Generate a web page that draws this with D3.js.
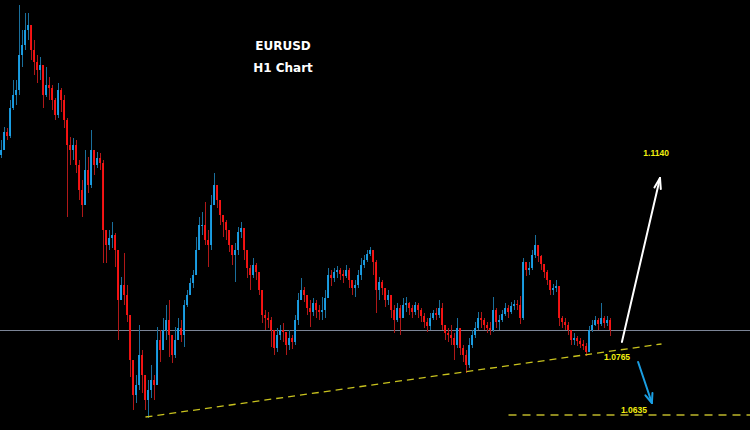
<!DOCTYPE html>
<html>
<head>
<meta charset="utf-8">
<script src="https://cdn.jsdelivr.net/npm/d3@7"></script>
<style>
html,body{margin:0;padding:0;background:#000;overflow:hidden;}
svg{display:block;}
</style>
</head>
<body>
<script>
// ---------- data (EURUSD H1) ----------
const firstOpen = 1.1155;
const closes = [
1.1165,1.1201,1.1193,1.1249,1.1275,1.1285,1.1355,1.1375,1.1405,1.1415,
1.1365,1.1341,1.1325,1.1335,1.1275,1.1295,1.1289,1.1265,1.1235,1.1285,
1.1265,1.1225,1.1175,1.1165,1.1175,1.1135,1.1085,1.1055,1.1125,1.1095,
1.1165,1.1135,1.1149,1.1139,1.1005,1.0975,1.0989,1.0995,1.0965,1.0865,
1.0895,1.0875,1.0835,1.0745,1.0675,1.0695,1.0755,1.0715,1.0665,1.0685,
1.0705,1.0695,1.0785,1.0765,1.0805,1.0825,1.0795,1.0755,1.0785,1.0809,
1.0795,1.0855,1.0875,1.0899,1.0915,1.0965,1.1015,1.1015,1.0985,1.0975,
1.1055,1.1095,1.1065,1.1035,1.1021,1.1005,1.0975,1.0955,1.0965,1.1001,
1.1009,1.0965,1.0929,1.0915,1.0935,1.0921,1.0885,1.0835,1.0829,1.0825,
1.0805,1.0769,1.0795,1.0805,1.0801,1.0775,1.0789,1.0781,1.0825,1.0865,
1.0885,1.0875,1.0849,1.0841,1.0859,1.0845,1.0841,1.0845,1.0869,1.0915,
1.0909,1.0921,1.0925,1.0917,1.0913,1.0925,1.0905,1.0889,1.0895,1.0915,
1.0935,1.0945,1.0957,1.0965,1.0941,1.0885,1.0901,1.0889,1.0865,1.0875,
1.0845,1.0825,1.0849,1.0829,1.0855,1.0859,1.0849,1.0841,1.0855,1.0845,
1.0833,1.0821,1.0813,1.0829,1.0839,1.0835,1.0849,1.0815,1.0799,1.0795,
1.0789,1.0775,1.0809,1.0769,1.0755,1.0735,1.0775,1.0795,1.0809,1.0829,
1.0825,1.0815,1.0809,1.0805,1.0845,1.0821,1.0825,1.0837,1.0849,1.0841,
1.0853,1.0857,1.0855,1.0829,1.0941,1.0925,1.0929,1.0955,1.0975,1.0953,
1.0937,1.0921,1.0905,1.0885,1.0889,1.0893,1.0829,1.0821,1.0815,1.0805,
1.0785,1.0789,1.0783,1.0777,1.0773,1.0761,1.0805,1.0815,1.0825,1.0817,
1.0829,1.0819,1.0825,1.0805
];
const highs = [
1.1185,1.1211,1.1209,1.1265,1.1305,1.1305,1.1455,1.1405,1.1439,1.1439,
1.1415,1.1385,1.1355,1.1351,1.1335,1.1331,1.1311,1.1295,1.1269,1.1299,
1.1289,1.1275,1.1229,1.1191,1.1189,1.1185,1.1145,1.1105,1.1165,1.1151,
1.1205,1.1159,1.1161,1.1159,1.1145,1.1001,1.1005,1.1021,1.0999,1.0965,
1.0911,1.0959,1.0895,1.0835,1.0745,1.0715,1.0815,1.0765,1.0715,1.0705,
1.0735,1.0715,1.0811,1.0805,1.0829,1.0855,1.0865,1.0795,1.0811,1.0829,
1.0825,1.0865,1.0885,1.0909,1.0925,1.0991,1.1031,1.1041,1.1061,1.1005,
1.1075,1.1119,1.1089,1.1065,1.1035,1.1025,1.0995,1.0975,1.0979,1.1011,
1.1021,1.1009,1.0955,1.0935,1.0949,1.0939,1.0915,1.0885,1.0845,1.0841,
1.0831,1.0795,1.0809,1.0815,1.0819,1.0799,1.0805,1.0795,1.0835,1.0879,
1.0909,1.0891,1.0871,1.0865,1.0869,1.0865,1.0855,1.0871,1.0885,1.0929,
1.0925,1.0929,1.0933,1.0929,1.0925,1.0935,1.0929,1.0905,1.0905,1.0925,
1.0949,1.0955,1.0965,1.0971,1.0965,1.0945,1.0911,1.0905,1.0889,1.0885,
1.0875,1.0855,1.0859,1.0855,1.0869,1.0871,1.0861,1.0855,1.0861,1.0859,
1.0849,1.0839,1.0829,1.0839,1.0845,1.0849,1.0865,1.0859,1.0815,1.0809,
1.0815,1.0799,1.0829,1.0785,1.0775,1.0765,1.0789,1.0805,1.0821,1.0841,
1.0841,1.0829,1.0821,1.0821,1.0871,1.0849,1.0835,1.0845,1.0859,1.0855,
1.0861,1.0865,1.0865,1.0873,1.0949,1.0941,1.0941,1.0965,1.0995,1.0969,
1.0955,1.0935,1.0925,1.0901,1.0897,1.0905,1.0885,1.0833,1.0829,1.0821,
1.0805,1.0799,1.0793,1.0789,1.0785,1.0779,1.0813,1.0825,1.0833,1.0829,
1.0859,1.0833,1.0833,1.0829
];
const lows = [
1.1149,1.1175,1.1185,1.1189,1.1245,1.1255,1.1275,1.1331,1.1365,1.1385,
1.1345,1.1315,1.1299,1.1305,1.1249,1.1271,1.1265,1.1245,1.1225,1.1229,
1.1241,1.1209,1.1031,1.1135,1.1145,1.1119,1.1065,1.1031,1.1055,1.1079,
1.1089,1.1115,1.1129,1.1125,1.0939,1.0939,1.0965,1.0969,1.0931,1.0785,
1.0865,1.0855,1.0821,1.0711,1.0645,1.0659,1.0685,1.0679,1.0645,1.0629,
1.0669,1.0665,1.0695,1.0741,1.0765,1.0785,1.0751,1.0739,1.0749,1.0785,
1.0781,1.0771,1.0851,1.0881,1.0889,1.0945,1.0985,1.0995,1.0975,1.0931,
1.0965,1.1065,1.1049,1.1015,1.0991,1.0985,1.0961,1.0935,1.0901,1.0955,
1.0989,1.0945,1.0909,1.0885,1.0909,1.0905,1.0875,1.0819,1.0805,1.0809,
1.0771,1.0755,1.0761,1.0785,1.0781,1.0755,1.0765,1.0767,1.0775,1.0815,
1.0865,1.0861,1.0835,1.0811,1.0833,1.0829,1.0825,1.0825,1.0829,1.0875,
1.0893,1.0901,1.0909,1.0905,1.0899,1.0909,1.0889,1.0875,1.0871,1.0889,
1.0905,1.0929,1.0941,1.0953,1.0915,1.0839,1.0865,1.0875,1.0851,1.0855,
1.0829,1.0799,1.0821,1.0795,1.0829,1.0841,1.0835,1.0829,1.0835,1.0829,
1.0821,1.0809,1.0801,1.0805,1.0825,1.0825,1.0829,1.0805,1.0785,1.0781,
1.0775,1.0745,1.0769,1.0755,1.0741,1.0719,1.0729,1.0769,1.0789,1.0805,
1.0809,1.0805,1.0799,1.0795,1.0801,1.0809,1.0805,1.0821,1.0833,1.0829,
1.0837,1.0845,1.0845,1.0817,1.0825,1.0913,1.0915,1.0925,1.0949,1.0941,
1.0925,1.0909,1.0895,1.0875,1.0875,1.0881,1.0813,1.0809,1.0805,1.0795,
1.0775,1.0775,1.0773,1.0769,1.0765,1.0753,1.0761,1.0801,1.0813,1.0805,
1.0813,1.0809,1.0813,1.0793
];

// reference level and drawn annotations, in (bar index, price)
const currentLevel = 1.0805;
const trendLine = [[48, 1.0631], [220, 1.0777]];
const targetLine = [[169, 1.0635], [250, 1.0635]];
const arrowUp = [[206.8, 1.0781], [219.5, 1.1109]];
const arrowDown = [[212.2, 1.0741], [216.8, 1.0659]];
const levelLabels = [
  {text: "1.1140", i: 218.2, p: 1.1153},
  {text: "1.0765", i: 205.2, p: 1.0745},
  {text: "1.0635", i: 210.8, p: 1.0639}
];
const titleLines = ["EURUSD", "H1 Chart"];

// ---------- drawing ----------
const W = 750, H = 430;
const svg = d3.select("body").append("svg")
  .attr("width", W).attr("height", H)
  .style("background", "#000");

const x = d3.scaleLinear().domain([-0.5, 249.5]).range([0, W]);
const y = d3.scaleLinear().domain([1.0605, 1.1465]).range([H, 0]);

const bars = closes.map((c, i) => {
  const o = i ? closes[i - 1] : firstOpen;
  return {i, o, c,
    h: Math.max(highs[i], o, c),
    l: Math.min(lows[i], o, c)};
});

const UP = "#1aa2ea", DOWN = "#ff1414";
const UPW = "#1a6f9c", DOWNW = "#b01818";

// current price level
svg.append("line")
  .attr("x1", 0).attr("x2", W)
  .attr("y1", Math.round(y(currentLevel)) + 0.5)
  .attr("y2", Math.round(y(currentLevel)) + 0.5)
  .attr("stroke", "#7b8496").attr("stroke-width", 1);

const g = svg.append("g");
// wicks
g.selectAll("line.wick").data(bars).enter().append("line")
  .attr("class", "wick")
  .attr("x1", d => Math.floor(x(d.i)) + 0.5)
  .attr("x2", d => Math.floor(x(d.i)) + 0.5)
  .attr("y1", d => y(d.h)).attr("y2", d => y(d.l))
  .attr("stroke", d => d.c >= d.o ? UPW : DOWNW)
  .attr("stroke-width", 1);
// bodies
g.selectAll("rect.body").data(bars).enter().append("rect")
  .attr("class", "body")
  .attr("x", d => Math.floor(x(d.i)) - 1)
  .attr("width", 2)
  .attr("y", d => y(Math.max(d.o, d.c)))
  .attr("height", d => Math.max(1, Math.abs(y(d.o) - y(d.c))))
  .attr("fill", d => d.c >= d.o ? UP : DOWN)
  .attr("opacity", 0.92);

// trendline and target line
const lineGen = d3.line().x(d => x(d[0])).y(d => y(d[1]));
svg.append("path").datum(trendLine)
  .attr("d", lineGen).attr("fill", "none")
  .attr("stroke", "#c8c21e").attr("stroke-width", 1.3)
  .attr("stroke-dasharray", "7,5");
svg.append("path").datum(targetLine)
  .attr("d", lineGen).attr("fill", "none")
  .attr("stroke", "#bdb62a").attr("stroke-width", 1.3)
  .attr("stroke-dasharray", "8,6");

// arrows
function arrow(pts, color, width, headLen, headAng) {
  const x1 = x(pts[0][0]), y1 = y(pts[0][1]);
  const x2 = x(pts[1][0]), y2 = y(pts[1][1]);
  const a = Math.atan2(y1 - y2, x1 - x2);
  svg.append("line").attr("x1", x1).attr("y1", y1).attr("x2", x2).attr("y2", y2)
    .attr("stroke", color).attr("stroke-width", width).attr("stroke-linecap", "round");
  [a - headAng, a + headAng].forEach(b => {
    svg.append("line").attr("x1", x2).attr("y1", y2)
      .attr("x2", x2 + headLen * Math.cos(b)).attr("y2", y2 + headLen * Math.sin(b))
      .attr("stroke", color).attr("stroke-width", width).attr("stroke-linecap", "round");
  });
}
arrow(arrowUp, "#ffffff", 2, 11, 0.3);
arrow(arrowDown, "#1a9ee2", 2, 10, 0.38);

// level labels
svg.selectAll("text.lvl").data(levelLabels).enter().append("text")
  .attr("class", "lvl")
  .attr("x", d => x(d.i)).attr("y", d => y(d.p))
  .attr("text-anchor", "middle")
  .attr("font-family", "'Liberation Sans', Arial, sans-serif")
  .attr("font-weight", "bold").attr("font-size", 8.5)
  .attr("fill", "#f2ee10")
  .text(d => d.text);

// title
svg.selectAll("text.title").data(titleLines).enter().append("text")
  .attr("class", "title")
  .attr("x", 283).attr("y", (d, k) => 50 + k * 22)
  .attr("text-anchor", "middle")
  .attr("font-family", "'DejaVu Sans', Verdana, sans-serif")
  .attr("font-weight", "bold").attr("font-size", 12)
  .attr("fill", "#ffffff")
  .text(d => d);
</script>
</body>
</html>
